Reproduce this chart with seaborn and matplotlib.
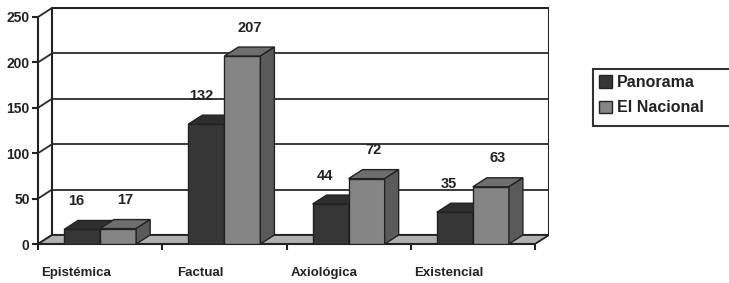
import matplotlib
matplotlib.use("Agg")
import matplotlib.pyplot as plt
import matplotlib.transforms as mtransforms
from matplotlib.patches import Polygon, Rectangle, Patch
import seaborn as sns
import pandas as pd

categories = ["Epistémica", "Factual", "Axiológica", "Existencial"]
series_names = ["Panorama", "El Nacional"]
panorama = [16, 132, 44, 35]
el_nacional = [17, 207, 72, 63]
y_ticks = [0, 50, 100, 150, 200, 250]

df = pd.DataFrame({
    "categoria": categories * 2,
    "valor": panorama + el_nacional,
    "serie": [series_names[0]] * len(categories) + [series_names[1]] * len(categories),
})

sns.set_style("white")
plt.rcParams["font.family"] = ["Liberation Sans", "DejaVu Sans"]
plt.rcParams["font.weight"] = "bold"

W, H = 729, 283
fig = plt.figure(figsize=(W / 100, H / 100), dpi=100)
ax = fig.add_axes([38 / W, (H - 244) / H, 511 / W, 237 / H])

front_cols = ["#363636", "#858585"]
top_cols = ["#2e2e2e", "#6e6e6e"]
side_cols = ["#262626", "#5a5a5a"]
edge = "#222222"

sns.barplot(data=df, x="categoria", y="valor", hue="serie", order=categories,
            hue_order=series_names, palette=front_cols, width=0.58,
            saturation=1, edgecolor=edge, linewidth=1, ax=ax, legend=False)

ncat = len(categories)
px_per_x = 124.25
px_per_y = 227 / 250
ddx = 14 / px_per_x
ddy = 9 / px_per_y
x0, x1 = -0.5, ncat - 0.5
ymax = 250

ax.set_xlim(x0, x1 + ddx)
ax.set_ylim(0, 237 / px_per_y)

# back wall
ax.add_patch(Rectangle((x0 + ddx, ddy), (x1 - x0), ymax, facecolor="white",
                       edgecolor=edge, linewidth=1.5, zorder=0.5))
for v in y_ticks[1:-1]:
    ax.plot([x0 + ddx, x1 + ddx], [v + ddy, v + ddy], color="#2a2a2a", lw=1.3, zorder=0.6)
# left wall diagonals
for v in y_ticks:
    ax.plot([x0, x0 + ddx], [v, v + ddy], color="#2a2a2a", lw=1.3, zorder=0.6)
# floor
ax.add_patch(Polygon([(x0, 0), (x1, 0), (x1 + ddx, ddy), (x0 + ddx, ddy)],
                     closed=True, facecolor="#b0b0b0", edgecolor=edge,
                     linewidth=1.3, zorder=1))

# 3D faces for bars
for hi, cont in enumerate(ax.containers):
    for bar in cont.patches:
        z = 3 + hi
        bar.set_zorder(z)
        bx, by = bar.get_x(), bar.get_y()
        bw, bh = bar.get_width(), bar.get_height()
        top = [(bx, by + bh), (bx + bw, by + bh), (bx + bw + ddx, by + bh + ddy), (bx + ddx, by + bh + ddy)]
        side = [(bx + bw, by), (bx + bw + ddx, by + ddy), (bx + bw + ddx, by + bh + ddy), (bx + bw, by + bh)]
        ax.add_patch(Polygon(top, closed=True, facecolor=top_cols[hi], edgecolor=edge, lw=1, zorder=z))
        ax.add_patch(Polygon(side, closed=True, facecolor=side_cols[hi], edgecolor=edge, lw=1, zorder=z))
        xoff = -4 if hi == 0 else 5
        ax.annotate(f"{int(bh)}", (bx + bw / 2, bh + ddy), xytext=(xoff, 14),
                    textcoords="offset points", ha="center", va="center",
                    fontsize=10.5, fontweight="bold", color="#222222", zorder=10)

# axes styling
for s in ["top", "right"]:
    ax.spines[s].set_visible(False)
ax.spines["left"].set_bounds(0, ymax)
ax.spines["bottom"].set_bounds(x0, x1)
for s in ["left", "bottom"]:
    ax.spines[s].set_color(edge)
    ax.spines[s].set_linewidth(1.5)
    ax.spines[s].set_zorder(2)

ax.set_yticks(y_ticks)
ax.set_yticklabels([str(v) for v in y_ticks], fontsize=10, fontweight="bold", color="#222222")
ax.tick_params(axis="y", direction="out", length=4, width=1.5, color=edge, pad=2, left=True)

ax.set_xticks(range(ncat))
ax.set_xticklabels(categories, fontsize=9.5, fontweight="bold", color="#222222")
ax.set_xticks([x0 + i for i in range(ncat + 1)], minor=True)
ax.tick_params(axis="x", which="major", length=0, pad=16.5)
ax.tick_params(axis="x", which="minor", direction="out", length=4, width=1.5, color=edge, bottom=True)
shift = mtransforms.ScaledTranslation(-0.24, 0, fig.dpi_scale_trans)
for lab in ax.get_xticklabels():
    lab.set_transform(lab.get_transform() + shift)
ax.set_xlabel("")
ax.set_ylabel("")
ax.grid(False)

# legend
fig.patches.append(Rectangle((593 / W, 1 - 126 / H), 150 / W, 57 / H, transform=fig.transFigure,
                             facecolor="white", edgecolor="#333333", linewidth=1.5, zorder=0))
handles = [Patch(facecolor=front_cols[i], edgecolor=edge, linewidth=1) for i in range(2)]
fig.legend(handles, series_names, loc="upper left", bbox_to_anchor=(599 / W, 1 - 75 / H),
           frameon=False, borderpad=0, borderaxespad=0, handlelength=0.8, handleheight=0.8,
           handletextpad=0.3, labelspacing=0.65, prop={"size": 11.5, "weight": "bold"},
           labelcolor="#222222")

fig.savefig("out.png", dpi=100)
